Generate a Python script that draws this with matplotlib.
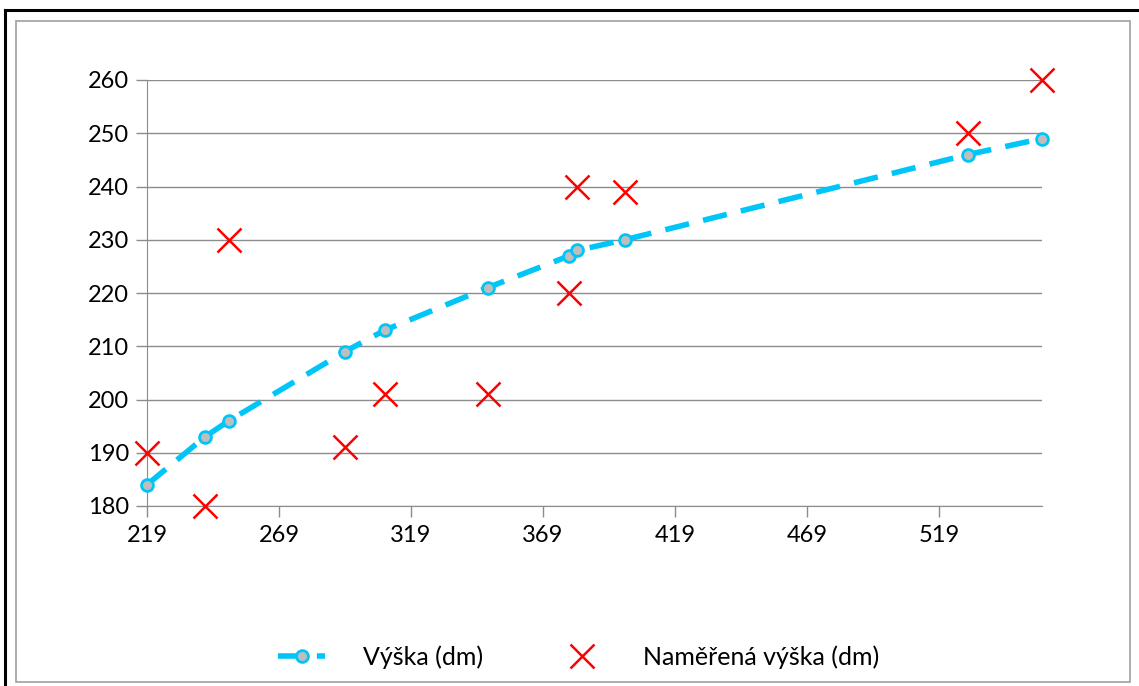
import matplotlib.pyplot as plt
from matplotlib.patches import Rectangle
from matplotlib.lines import Line2D

plt.rcParams['font.family'] = ['Lato', 'DejaVu Sans']

# data
x_vals = [219, 241, 250, 294, 309, 348, 379, 382, 400, 530, 558]
vyska = [184, 193, 196, 209, 213, 221, 227, 228, 230, 246, 249]
namerena = [190, 180, 230, 191, 201, 201, 220, 240, 239, 250, 260]
x_ticks = [219, 269, 319, 369, 419, 469, 519]
y_ticks = [180, 190, 200, 210, 220, 230, 240, 250, 260]

cyan = '#00C6F8'
grid_c = '#8C8C8C'

fig = plt.figure(figsize=(11.39, 6.86), dpi=100)

# frames round the chart
fig.add_artist(Line2D([5 / 1139, 5 / 1139], [0, 1 - 10 / 686], color='black', lw=2.2))
fig.add_artist(Line2D([5 / 1139, 1], [1 - 10 / 686, 1 - 10 / 686], color='black', lw=2.2))
fig.add_artist(Rectangle((16 / 1139, 1 - 682 / 686), (1130 - 16) / 1139, (682 - 21) / 686,
                         fill=False, edgecolor='#A0A0A0', lw=1.2))

ax = fig.add_axes([147 / 1139, 1 - 506 / 686, (1042 - 147) / 1139, (506 - 80) / 686])

ax.plot(x_vals, vyska, color=cyan, lw=4, dashes=(4.4, 2.6),
        marker='o', ms=8.5, mfc='#BEBEBE', mec=cyan, mew=2, label='Výška (dm)',
        zorder=3, clip_on=False)
ax.plot(x_vals, namerena, ls='none', marker='x', ms=17, mew=1.8, color='#FF0000',
        label='Naměřená výška (dm)', zorder=4, clip_on=False)

ax.set_xlim(219, 558)
ax.set_ylim(180, 260)
ax.set_xticks(x_ticks)
ax.set_yticks(y_ticks)
ax.yaxis.grid(True, color=grid_c, lw=1)
ax.set_axisbelow(True)
for s in ['top', 'right']:
    ax.spines[s].set_visible(False)
for s in ['left', 'bottom']:
    ax.spines[s].set_color(grid_c)
ax.tick_params(axis='both', colors=grid_c, labelcolor='black', labelsize=17, length=8, width=1)
ax.tick_params(axis='y', pad=5)
ax.tick_params(axis='x', pad=6)

fig.legend(loc='center', bbox_to_anchor=(0.508, 1 - 657 / 686), ncol=2, frameon=False,
           fontsize=18, handlelength=1.9, columnspacing=3.0, handletextpad=1.5)

fig.savefig('out.png', dpi=100)
